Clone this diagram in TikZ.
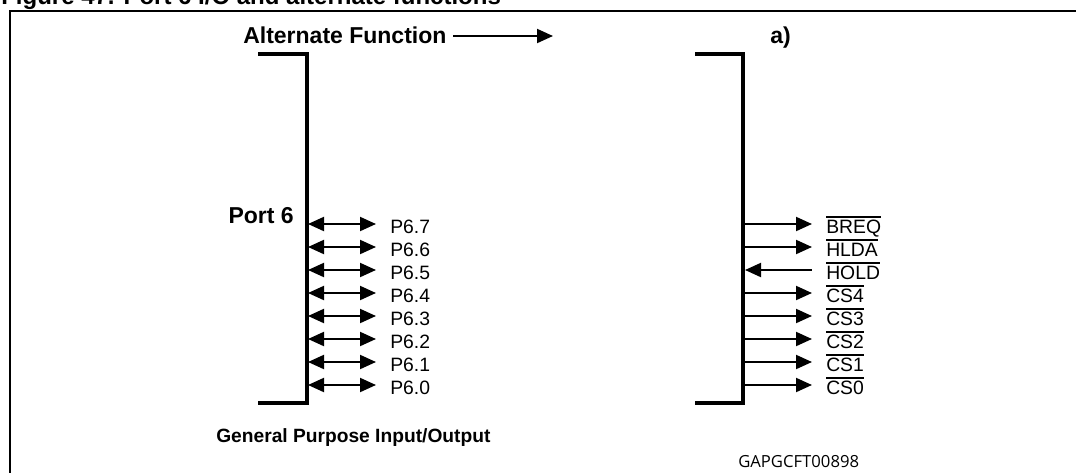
\documentclass[tikz,border=0pt]{standalone}
\usepackage{fontspec}
\setmainfont{Liberation Sans}
\newfontfamily\codefont{Open Sans}
\usetikzlibrary{arrows.meta,positioning}
\newcommand{\negsig}[1]{\leavevmode\vbox{\hrule height 1.2pt\kern 1.6pt\hbox{#1}}}
\tikzset{
	bracket/.style={line width=3pt},
	outarr/.style={-{Triangle[length=12pt,width=10.5pt]}, line width=1.5pt},
	inarr/.style={{Triangle[length=12pt,width=10.5pt]}-, line width=1.5pt},
	biarr/.style={{Triangle[length=12pt,width=10.5pt]}-{Triangle[length=12pt,width=10.5pt]}, line width=1.5pt},
	pinlbl/.style={anchor=base west, inner xsep=10.5pt, inner ysep=0pt, font=\fontsize{14.5}{17}\selectfont},
	headlbl/.style={anchor=base west, inner sep=0pt, font=\bfseries\fontsize{17.25}{20}\selectfont}
}
\begin{document}
\begin{tikzpicture}[x=0.75pt, y=-0.75pt]
	\useasboundingbox (0,0) rectangle (1076,472);
	\draw[line width=2pt] (10,490) -- (10,11) -- (1090,11);
	\node[headlbl, font=\bfseries\fontsize{18}{21}\selectfont] (title) at (1,4) {Figure 47. Port 6 I/O and alternate functions};
	\node[headlbl] (altfn) at (243,43) {Alternate Function};
	\coordinate (alttip) at (553,36);
	\draw[outarr] ([xshift=5pt]altfn.east |- alttip) -- (alttip);
	\node[headlbl] (alta) at (770,43) {a)};
	% brackets
	\draw[bracket] (258,54) -- (307,54) -- (307,403) -- (258,403);
	\draw[bracket] (695,54) -- (743,54) -- (743,403) -- (695,403);
	\node[headlbl, anchor=base east] (port) at (294,223) {Port 6};
	% port 6 pins
	\foreach \i [count=\k from 0] in {7,6,...,0} {
		\coordinate (pin\i) at (308,224+23*\k);
		\node[pinlbl] (p\i) at (376,233.5+23*\k) {P6.\i};
		\draw[biarr] (pin\i) -- (pin\i -| p\i.west);
	}
	% alternate functions
	\foreach \sig/\dir [count=\k from 0] in {BREQ/outarr, HLDA/outarr, HOLD/inarr, CS4/outarr, CS3/outarr, CS2/outarr, CS1/outarr, CS0/outarr} {
		\coordinate (alt\k) at (745,224+23*\k);
		\node[pinlbl] (s\k) at (812,233.5+23*\k) {\negsig{\sig}};
		\draw[\dir] (alt\k) -- (alt\k -| s\k.west);
	}
	\node[headlbl, font=\bfseries\fontsize{14.4}{17}\selectfont] (gpio) at (216,442) {General Purpose Input/Output};
	\node[headlbl, font=\codefont\fontsize{12.5}{15}\selectfont] (code) at (738,467) {GAPGCFT00898};
\end{tikzpicture}
\end{document}
